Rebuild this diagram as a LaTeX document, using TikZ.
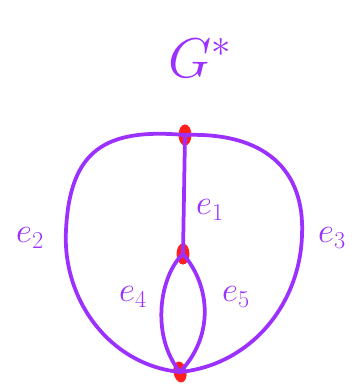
\documentclass[tikz,border=0pt]{standalone}
\usepackage{amsmath}
\usetikzlibrary{shapes.geometric}
\definecolor{pen}{HTML}{9B30FF}
\definecolor{dot}{HTML}{FF1E1E}
\tikzset{
  every picture/.style={line join=round, line cap=round},
  edge/.style={draw=pen, line width=3.2pt},
  vert/.style={ellipse, fill=dot, draw=dot, line width=1pt, minimum width=10pt, minimum height=17pt, inner sep=0pt},
  lab/.style={text=pen, font=\fontsize{24}{28}\selectfont, scale=1.2, transform shape},
}

\begin{document}
\begin{tikzpicture}[x=0.03cm,y=-0.03cm]
\useasboundingbox (0,0) rectangle (355,385);
\node[lab, scale=1.6] (title) at (200,58) {$G^{*}$};
% vertices
\node[vert] (top) at (185,135) {};
\node[vert] (mid) at (183,254) {};
\node[vert, rotate=10] (bot) at (180,372) {};
% edges
\draw[edge] (top.center) -- (mid.center);
\draw[edge] (top.center) .. controls (105,128) and (70,150) .. (66,230)
  .. controls (62,300) and (110,365) .. (bot.center);
\draw[edge] (top.center) .. controls (265,132) and (305,170) .. (302,235)
  .. controls (300,305) and (250,365) .. (bot.center);
\draw[edge] (mid.center) .. controls (160,275) and (150,335) .. (bot.center);
\draw[edge] (mid.center) .. controls (210,285) and (215,335) .. (bot.center);
% labels
\node[lab] (l1) at (210,210) {$e_1$};
\node[lab] (l2) at (30,238) {$e_2$};
\node[lab] (l3) at (332,238) {$e_3$};
\node[lab] (l4) at (133,297) {$e_4$};
\node[lab] (l5) at (236,297) {$e_5$};
\end{tikzpicture}
\end{document}
